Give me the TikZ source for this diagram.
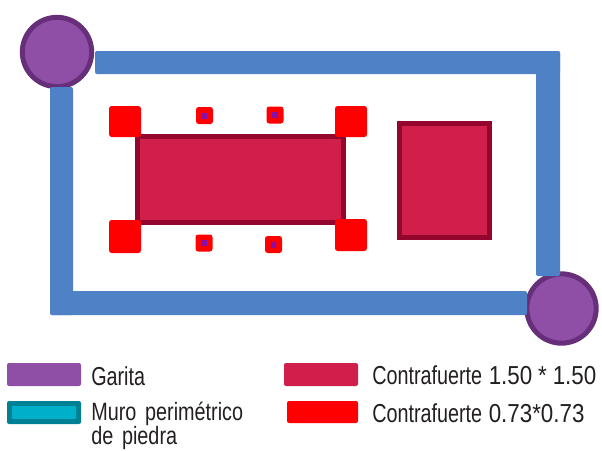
\documentclass[tikz,border=0pt]{standalone}
\usepackage{fontspec}
\setmainfont[FakeStretch=0.76,WordSpace=1.8]{Liberation Sans}
\newfontfamily\numfont[FakeStretch=0.86,WordSpace=0.95]{Liberation Sans}
\newfontfamily\wallfont[FakeStretch=0.79,WordSpace=1.6]{Liberation Sans}
\definecolor{wall}{HTML}{4F81C7}
\definecolor{garfill}{HTML}{8F4FA6}
\definecolor{garline}{HTML}{672F7A}
\definecolor{bigfill}{HTML}{D01F4B}
\definecolor{bigline}{HTML}{95062F}
\definecolor{tealfill}{HTML}{00B0CA}
\definecolor{tealline}{HTML}{008193}
\definecolor{dotc}{HTML}{8A0FA8}
\definecolor{txt}{HTML}{231F20}
\tikzset{
  wallbar/.style={fill=wall,rounded corners=1.5},
  garita/.style={circle,fill=garfill,draw=garline,line width=3.75pt,minimum size=52pt,inner sep=0pt},
  bigbox/.style={fill=bigfill,draw=bigline,line width=3.75pt,line join=miter},
  redbox/.style={fill=red,rounded corners=2},
  purp/.style={fill=dotc},
  legbox/.style={rounded corners=1.5},
  legtext/.style={anchor=base west,inner sep=0pt,text=txt,font=\fontsize{19.5}{22}\selectfont},
  walltext/.style={anchor=base west,inner sep=0pt,text=txt,font=\wallfont\fontsize{18.8}{22}\selectfont}
}
\newcommand{\smallbox}[3]{% name, cx, cy
  \fill[redbox] (#2-8.5,#3-8.5) rectangle (#2+8.5,#3+8.5);
  \node[purp,minimum width=4pt,minimum height=4.5pt,inner sep=0pt] (#1) at (#2,#3) {};
}
\begin{document}
\begin{tikzpicture}[x=0.75pt,y=-0.75pt]
\useasboundingbox (0,0) rectangle (602,450);
% towers
\node[garita] (g1) at (57,52) {};
\node[garita] (g2) at (561.5,308.5) {};
% walls
\fill[wallbar] (95,51) rectangle (560,74);
\fill[wallbar] (536,51) rectangle (560,276);
\fill[wallbar] (50,87) rectangle (73,315);
\fill[wallbar] (50,291) rectangle (527,315);
% buttresses
\draw[bigbox] (137.5,136.5) rectangle (343.5,222);
\draw[bigbox] (399.5,123.5) rectangle (489.5,237.5);
\fill[redbox] (109,106) rectangle (141,137);
\fill[redbox] (335,106) rectangle (367,137);
\fill[redbox] (109,220) rectangle (141,253);
\fill[redbox] (335,219) rectangle (367,251);
\smallbox{s1}{204.5}{115.5}
\smallbox{s2}{275}{115}
\smallbox{s3}{204}{243}
\smallbox{s4}{273.5}{244.5}
% legend
\fill[legbox,fill=garfill] (7,363) rectangle (81,386);
\fill[legbox,fill=tealline] (7,401) rectangle (81,424);
\fill[fill=tealfill] (12,406) rectangle (76,419);
\fill[legbox,fill=bigfill] (284,363) rectangle (358,386);
\fill[legbox,fill=red] (287,401) rectangle (358,423);
\node[legtext] (t1) at (91,385) {Garita};
\node[walltext] (t2) at (91,420.5) {Muro perimétrico};
\node[walltext] (t3) at (91,444.5) {de piedra};
\node[legtext] (t4) at (372,384) {Contrafuerte\hspace{5pt}{\numfont 1.50 * 1.50}};
\node[legtext] (t5) at (372,422) {Contrafuerte\hspace{5pt}{\numfont 0.73*0.73}};
\end{tikzpicture}
\end{document}
